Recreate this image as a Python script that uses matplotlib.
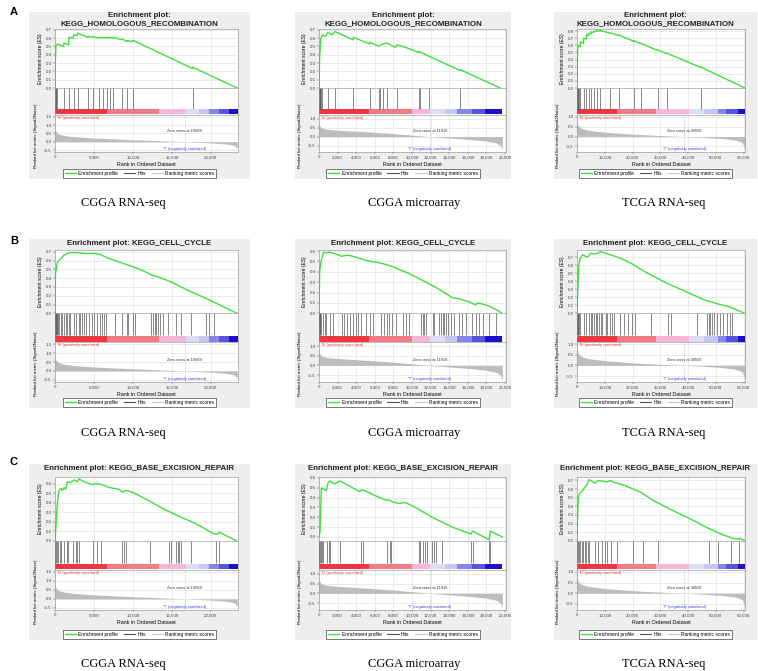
import matplotlib
matplotlib.use("Agg")
import matplotlib.pyplot as plt
from matplotlib.patches import Rectangle
from matplotlib.lines import Line2D
from matplotlib.ticker import FuncFormatter, MultipleLocator

W, H = 758, 671

# ---- dataset level values (one per column) ----
datasets = ["CGGA RNA-seq", "CGGA microarray", "TCGA RNA-seq"]
n_genes = [23400, 19700, 60483]
x_max = [23500, 20100, 60483]
x_step = [5000, 2000, 10000]
zero_cross = [16669, 11916, 38550]

metric_rank_1 = [0, 50, 200, 500, 1000, 2000, 5000, 10000, 14000, 16669, 20000, 22000, 23000, 23400]
metric_val_1 = [0.85, 0.70, 0.56, 0.46, 0.39, 0.32, 0.22, 0.12, 0.05, 0.0, -0.07, -0.14, -0.22, -0.40]
metric_rank_2 = [0, 50, 200, 500, 1000, 2000, 5000, 8000, 11916, 14000, 16000, 18000, 19000, 19500, 19700]
metric_val_2 = [0.85, 0.65, 0.52, 0.45, 0.40, 0.36, 0.27, 0.17, 0.0, -0.08, -0.15, -0.25, -0.35, -0.50, -0.75]
metric_rank_3 = [0, 100, 500, 1500, 4000, 10000, 20000, 30000, 38550, 45000, 52000, 57000, 59500, 60483]
metric_val_3 = [0.90, 0.70, 0.55, 0.42, 0.32, 0.22, 0.12, 0.05, 0.0, -0.04, -0.10, -0.18, -0.30, -0.65]

# colour bar band edges (ranks)
band_edges_1 = [0, 6650, 13400, 16800, 18500, 19800, 21100, 22400, 23500]
band_edges_2 = [0, 5360, 10000, 11960, 13570, 14820, 16420, 17850, 19700]
band_edges_3 = [0, 14460, 28300, 40400, 45800, 50600, 53600, 57800, 60483]

# ---- gene sets (rows) ----
gene_sets = ["KEGG_HOMOLOGOUS_RECOMBINATION", "KEGG_CELL_CYCLE", "KEGG_BASE_EXCISION_REPAIR"]

es_rank_a1 = [0, 40, 120, 300, 1100, 1150, 1750, 1800, 2350, 2400, 2850, 2900, 4250, 4300, 4850, 4900,
              5650, 5700, 6150, 6200, 6650, 6700, 7450, 7500, 8550, 8600, 9250, 9300, 9950, 10000,
              17650, 17700, 23400]
es_a1 = [0, 0.30, 0.50, 0.53, 0.50, 0.54, 0.52, 0.61, 0.60, 0.64, 0.63, 0.66, 0.61, 0.62, 0.61, 0.62,
         0.60, 0.61, 0.60, 0.61, 0.60, 0.61, 0.60, 0.61, 0.58, 0.59, 0.56, 0.57, 0.56, 0.575,
         0.235, 0.25, 0.0]
hits_a1 = [30, 80, 150, 220, 1150, 1800, 2400, 2900, 4300, 4900, 5700, 6200, 6700, 7100, 7500, 8600,
           9300, 10000, 17700]

es_rank_a2 = [0, 70, 210, 360, 700, 960, 1420, 1700, 3670, 3690, 5450, 5470, 6420, 6600, 6890, 7320,
              8200, 8390, 9280, 10700, 10720, 15170, 15190, 19500]
es_a2 = [0, 0.37, 0.60, 0.64, 0.62, 0.67, 0.64, 0.68, 0.58, 0.61, 0.53, 0.55, 0.50, 0.52, 0.53, 0.54,
         0.49, 0.52, 0.49, 0.43, 0.44, 0.21, 0.22, 0.0]
hits_a2 = [20, 60, 100, 150, 200, 360, 960, 1700, 3680, 5460, 6430, 6600, 6890, 7320, 8390, 10710,
           10900, 11800, 15180]

es_rank_a3 = [0, 240, 600, 1150, 1200, 2350, 2400, 3350, 3400, 4150, 4200, 5050, 5100, 5950, 6000,
              7150, 7200, 8350, 8400, 11950, 12000, 15050, 15100, 20450, 20500, 22850, 22900, 29150,
              29200, 32250, 32300, 44550, 44600, 60483]
es_a3 = [0, 0.55, 0.60, 0.58, 0.65, 0.63, 0.70, 0.69, 0.75, 0.74, 0.77, 0.76, 0.79, 0.78, 0.80,
         0.80, 0.81, 0.80, 0.81, 0.77, 0.775, 0.74, 0.745, 0.657, 0.665, 0.626, 0.63, 0.527,
         0.535, 0.485, 0.49, 0.29, 0.295, 0.0]
hits_a3 = [0, 150, 300, 450, 600, 1200, 2400, 3400, 4200, 5100, 6000, 7200, 8400, 12000, 15100,
           20500, 22900, 29200, 32300, 44600]

es_rank_b1 = [0, 60, 300, 720, 1140, 1570, 2000, 2800, 4000, 5000, 5800, 7000, 7710, 10000, 10900,
              12600, 13400, 15100, 16400, 19400, 23400]
es_b1 = [0, 0.45, 0.58, 0.62, 0.66, 0.68, 0.69, 0.69, 0.68, 0.68, 0.67, 0.62, 0.60, 0.53, 0.50,
         0.43, 0.41, 0.35, 0.29, 0.17, 0.0]
hits_b1 = [0, 50, 100, 150, 200, 300, 400, 500, 720, 930, 1140, 1350, 1570, 1780, 1990, 2500, 2760,
           3050, 3260, 3480, 3690, 4030, 4320, 4750, 5040, 5380, 5720, 6020, 6320, 6610, 7710, 8560,
           9200, 9410, 9960, 10270, 12380, 12590, 12800, 13020, 13230, 13490, 13900, 14500, 15560,
           16200, 17460, 19360, 19800, 20430]

es_rank_b2 = [0, 70, 180, 360, 500, 790, 1140, 1860, 2390, 3100, 3640, 4360, 5070, 5600, 6320, 7210,
              7930, 8640, 9530, 10420, 11500, 12570, 13460, 14350, 15070, 16140, 16850, 17030, 17560,
              18280, 19170, 19700]
es_b2 = [0, 0.40, 0.48, 0.55, 0.59, 0.58, 0.59, 0.57, 0.55, 0.56, 0.55, 0.53, 0.51, 0.50, 0.49, 0.47,
         0.45, 0.42, 0.39, 0.35, 0.30, 0.25, 0.20, 0.15, 0.14, 0.11, 0.08, 0.10, 0.09, 0.07, 0.03, 0.0]
hits_b2 = [0, 50, 100, 150, 250, 400, 600, 790, 1140, 1500, 2500, 2700, 3000, 3350, 3640, 3930, 4180,
           4530, 5070, 5430, 5780, 6640, 7000, 7350, 7530, 7850, 8280, 9000, 9350, 9710, 10960, 11140,
           11320, 11500, 12210, 12390, 12920, 13100, 13280, 13460, 13640, 13820, 14170, 14530, 15060,
           15420, 15780, 16490, 16850, 17210, 17640, 18280, 18990]

es_rank_b3 = [0, 590, 1060, 2000, 3780, 4960, 6730, 8500, 10270, 13800, 16170, 19700, 24400, 31500,
              38600, 45700, 50400, 55100, 60483]
es_b3 = [0, 0.59, 0.68, 0.73, 0.70, 0.75, 0.74, 0.77, 0.75, 0.71, 0.68, 0.62, 0.52, 0.39, 0.28,
         0.17, 0.12, 0.08, 0.0]
hits_b3 = [0, 100, 300, 500, 700, 1200, 2600, 3200, 4400, 5000, 5550, 6150, 6700, 7300, 7900, 8500,
           9100, 10300, 10850, 12000, 12650, 13200, 15600, 16800, 18500, 19700, 20900, 26800, 32700,
           33800, 43300, 46800, 47400, 48000, 48600, 49200, 50400, 51500, 52700, 53900, 55100, 55700]

es_rank_c1 = [0, 86, 215, 343, 515, 730, 944, 1160, 1370, 1590, 2020, 2450, 2870, 3090, 3730, 4800,
              5230, 6090, 6950, 8240, 8670, 9100, 9950, 12100, 13800, 16400, 18100, 20200, 20900,
              21100, 23300]
es_c1 = [0, 0.10, 0.30, 0.43, 0.53, 0.55, 0.53, 0.56, 0.54, 0.62, 0.61, 0.64, 0.62, 0.65, 0.62, 0.59,
         0.60, 0.59, 0.56, 0.54, 0.51, 0.53, 0.51, 0.42, 0.34, 0.24, 0.18, 0.08, 0.07, 0.09, 0.0]
hits_c1 = [0, 100, 250, 400, 600, 730, 1160, 1590, 1720, 2320, 2660, 2870, 3090, 4890, 5450, 5880,
           8580, 8880, 9100, 12180, 14670, 14890, 15530, 15740, 15960, 16170, 17460, 20680, 21110]

es_rank_c2 = [0, 110, 250, 430, 790, 975, 1155, 1700, 2240, 4400, 4580, 4950, 6030, 7290, 7470, 7830,
              8560, 9280, 10360, 12170, 14330, 16320, 16500, 18300, 18410, 19700]
es_c2 = [0, 0.05, 0.50, 0.49, 0.47, 0.55, 0.57, 0.54, 0.57, 0.46, 0.48, 0.47, 0.42, 0.37, 0.38, 0.36,
         0.34, 0.35, 0.30, 0.20, 0.10, 0.03, 0.06, -0.03, 0.06, 0.0]
hits_c2 = [0, 50, 150, 250, 300, 430, 900, 1050, 1160, 2240, 4550, 4690, 7290, 7580, 7720, 10720,
           10900, 11150, 11440, 11620, 12170, 12350, 12530, 13180, 16390, 16500, 18300, 18410]

es_rank_c3 = [0, 360, 600, 1190, 2020, 2980, 3570, 4400, 5360, 6550, 7740, 9520, 10700, 11900, 13100,
              14300, 17300, 20200, 23200, 26800, 33900, 41100, 47000, 51800, 55900, 58300, 58700, 60483]
es_c3 = [0, 0.44, 0.52, 0.56, 0.58, 0.63, 0.65, 0.71, 0.69, 0.67, 0.70, 0.69, 0.68, 0.70, 0.68,
         0.67, 0.64, 0.60, 0.56, 0.48, 0.36, 0.25, 0.15, 0.08, 0.03, 0.02, 0.03, 0.0]
hits_c3 = [0, 200, 600, 1190, 1790, 2140, 2740, 3210, 3930, 4400, 6550, 7740, 8930, 10100, 10700,
           12300, 14300, 20200, 23800, 29200, 47600, 50600, 55300, 58300]

# ---- layout (pixels) ----
row_geom = [(12, 179, 29, 152), (239, 408, 250, 382), (464, 640, 477, 610)]
col_geom = [(29, 250, 55, 238), (295, 511, 319, 506), (554, 757, 577, 745)]
es_ylim = [[(0, 0.71), (0, 0.71), (0, 0.83)],
           [(0, 0.72), (0, 0.61), (0, 0.79)],
           [(0, 0.67), (-0.04, 0.61), (0, 0.74)]]
met_ylim = [(-0.62, 1.6), (-0.86, 1.2), (-0.78, 1.08)]
met_ticks = [[-0.5, 0, 0.5, 1.0, 1.5], [-0.5, 0, 0.5, 1.0], [-0.5, 0, 0.5, 1.0]]
zc_text_y = [0.5, 0.18, 0.17]
caption_x = [123, 414, 664]
caption_y = [203, 433, 664]
letter_y = [12, 241, 462]
band_colors = ["#ee3641", "#f27b85", "#f5b6d9", "#dcdcf6", "#c6c6f2", "#8585ea", "#5555df", "#1e10c8"]

plt.rcParams["font.family"] = ["Liberation Sans", "DejaVu Sans"]

metric_ranks = [metric_rank_1, metric_rank_2, metric_rank_3]
metric_vals = [metric_val_1, metric_val_2, metric_val_3]
band_edges = [band_edges_1, band_edges_2, band_edges_3]
es_ranks = [[es_rank_a1, es_rank_a2, es_rank_a3], [es_rank_b1, es_rank_b2, es_rank_b3],
            [es_rank_c1, es_rank_c2, es_rank_c3]]
es_vals = [[es_a1, es_a2, es_a3], [es_b1, es_b2, es_b3], [es_c1, es_c2, es_c3]]
hits_all = [[hits_a1, hits_a2, hits_a3], [hits_b1, hits_b2, hits_b3], [hits_c1, hits_c2, hits_c3]]

fig = plt.figure(figsize=(W / 100, H / 100), dpi=100)
fig.patch.set_facecolor("white")

TS = 3.2
GRID = "#dcdcdc"
GREEN = "#3ee03e"


def fr(x0, y0, x1, y1):
    return [x0 / W, 1 - y1 / H, (x1 - x0) / W, (y1 - y0) / H]


def style_axes(ax, c):
    ax.set_xlim(0, x_max[c])
    ax.xaxis.set_major_locator(MultipleLocator(x_step[c]))
    ax.grid(True, color=GRID, lw=0.4)
    ax.set_axisbelow(True)
    for s in ax.spines.values():
        s.set_color("#8a8a8a")
        s.set_linewidth(0.4)
    ax.tick_params(labelsize=TS, length=1.5, width=0.3, pad=1, colors="#444444")


def draw_panel(r, c):
    bg_t, bg_b, es_t, met_b = row_geom[r]
    bx0, bx1, ax0, ax1 = col_geom[c]
    fig.add_artist(Rectangle((bx0 / W, 1 - bg_b / H), (bx1 - bx0) / W, (bg_b - bg_t) / H,
                             transform=fig.transFigure, facecolor="#eeeeee",
                             edgecolor="none", zorder=-1))
    cx = (bx0 + bx1) / 2
    if r == 0:
        fig.text(cx / W, 1 - (bg_t + 3.5) / H, "Enrichment plot:", ha="center", va="center",
                 fontsize=5.7, weight="bold", color="#222222")
        fig.text(cx / W, 1 - (bg_t + 12) / H, gene_sets[r], ha="center", va="center",
                 fontsize=5.7, weight="bold", color="#222222")
    else:
        fig.text(cx / W, 1 - (bg_t + 4.5) / H, "Enrichment plot: " + gene_sets[r],
                 ha="center", va="center", fontsize=5.7, weight="bold", color="#222222")

    avail = met_b - es_t
    es_b = es_t + 0.48 * avail
    hit_b = es_b + 0.22 * avail

    # enrichment score
    ax_es = fig.add_axes(fr(ax0, es_t, ax1, es_b))
    style_axes(ax_es, c)
    ax_es.plot(es_ranks[r][c], es_vals[r][c], color=GREEN, lw=1.0)
    ax_es.set_ylim(*es_ylim[r][c])
    ax_es.yaxis.set_major_locator(MultipleLocator(0.1))
    ax_es.yaxis.set_major_formatter(FuncFormatter(lambda v, p: f"{v:.1f}"))
    ax_es.tick_params(axis="x", labelbottom=False, length=0)
    ax_es.set_ylabel("Enrichment score (ES)", fontsize=3.6, labelpad=2)

    # hits + colour bar
    ax_hit = fig.add_axes(fr(ax0, es_b, ax1, hit_b))
    style_axes(ax_hit, c)
    ax_hit.grid(axis="y", visible=False)
    ax_hit.set_ylim(0, 1)
    ax_hit.set_yticks([])
    ax_hit.tick_params(axis="x", labelbottom=False, length=0)
    ax_hit.vlines(hits_all[r][c], 0.24, 1.0, color="#575757", lw=0.5)
    edges = band_edges[c]
    for i in range(len(edges) - 1):
        ax_hit.add_patch(Rectangle((edges[i], 0.03), edges[i + 1] - edges[i], 0.19,
                                   facecolor=band_colors[i], edgecolor="none"))

    # ranked list metric
    ax_met = fig.add_axes(fr(ax0, hit_b, ax1, met_b))
    style_axes(ax_met, c)
    ax_met.fill_between(metric_ranks[c], metric_vals[c], 0, color="#bdbdbd", lw=0)
    ax_met.set_ylim(*met_ylim[c])
    ax_met.set_yticks(met_ticks[c])
    ax_met.yaxis.set_major_formatter(FuncFormatter(lambda v, p: f"{v:.1f}"))
    ax_met.xaxis.set_major_formatter(FuncFormatter(lambda v, p: f"{int(v):,}"))
    ax_met.axvline(zero_cross[c], color="#999999", lw=0.4, ls=(0, (1, 1.5)))
    ax_met.text(0.01, 0.985, "'N' (positively correlated)", transform=ax_met.transAxes,
                color="#e03a3a", fontsize=2.8, va="top", ha="left")
    ax_met.text(zero_cross[c], zc_text_y[c], f"Zero cross at {zero_cross[c]}", color="#333333",
                fontsize=2.8, ha="center", va="bottom")
    ax_met.text(zero_cross[c], 0.03, "'T' (negatively correlated)", color="#3a3ad0", fontsize=2.8,
                ha="center", va="bottom", transform=ax_met.get_xaxis_transform())
    ax_met.set_xlabel("Rank in Ordered Dataset", fontsize=3.8, labelpad=1.5)
    fig.text((ax0 - 19) / W, 1 - ((hit_b + met_b) / 2 + 2) / H, "Ranked list metric (Signal2Noise)",
             rotation=90, ha="center", va="center", fontsize=3.2)

    # legend
    handles = [Line2D([], [], color=GREEN, lw=1.0),
               Line2D([], [], color="#555555", lw=0.8),
               Line2D([], [], color="#c8c8c8", lw=0.8)]
    leg = fig.legend(handles, ["Enrichment profile", "Hits", "Ranking metric scores"],
                     loc="center", bbox_to_anchor=(cx / W, 1 - (bg_b - 5.5) / H), ncol=3,
                     fontsize=3.5, frameon=True, fancybox=False, framealpha=1,
                     edgecolor="#444444", borderpad=0.35, handlelength=2.3, handletextpad=0.5,
                     columnspacing=1.2)
    leg.get_frame().set_linewidth(0.5)

    fig.text(caption_x[c] / W, 1 - caption_y[r] / H, datasets[c], ha="center", va="center",
             fontsize=9, family="Liberation Serif")


for r in range(3):
    fig.text(10 / W, 1 - letter_y[r] / H, "ABC"[r], ha="left", va="center", fontsize=8,
             weight="bold")
    for c in range(3):
        draw_panel(r, c)

fig.savefig("out.png", dpi=100)
